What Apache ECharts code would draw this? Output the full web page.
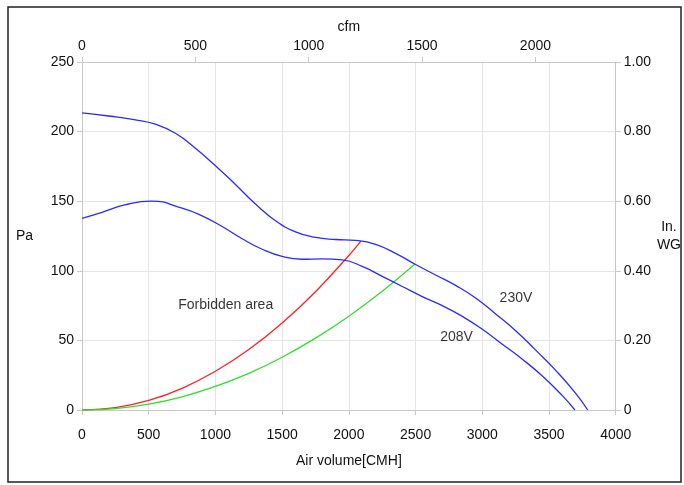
<!DOCTYPE html>
<html>
<head>
<meta charset="utf-8">
<script src="https://cdn.jsdelivr.net/npm/echarts@6/dist/echarts.min.js"></script>
<style>
html,body{margin:0;padding:0;background:#fff;}
#chart{width:684px;height:485px;}
</style>
</head>
<body>
<div id="chart"></div>
<script>
// Air volume (CMH) and static pressure (Pa)
var curve230V = [
  [0,213.5],[200,211.2],[400,208.5],[550,205.3],[700,198.8],[850,188],[1000,175.5],
  [1150,162],[1300,148],[1450,136],[1600,128],[1750,124],[1900,122.5],[2050,121.8],
  [2200,119],[2350,112.5],[2500,104.5],[2650,97],[2800,89.5],[2950,80.5],[3100,69],
  [3250,57],[3400,43],[3550,28.5],[3700,12],[3790,0]
];
var curve208V = [
  [0,137.7],[150,142],[320,147.3],[520,150.1],[750,145],[900,139.5],
  [1050,131.8],[1200,123],[1350,115.5],[1500,110.3],[1650,108.3],[1800,108.6],
  [1950,107.8],[2100,103.2],[2250,96],[2400,88.7],[2550,81.5],[2700,75],[2850,67.3],
  [3000,58],[3150,47.3],[3300,36.5],[3450,24.4],[3600,10.3],[3694,0]
];
var forbiddenRed = [
  [0,0],[250,1.7],[500,6.9],[750,15.6],[1000,27.8],[1250,43.4],[1500,62.5],
  [1750,85],[2000,111],[2090,121.3]
];
var systemGreen = [
  [0,0],[250,1.05],[500,4.2],[750,9.5],[1000,16.9],[1250,26.3],[1500,37.9],
  [1750,51.6],[2000,67.4],[2250,85.3],[2495,104.9]
];
var cmhMax = 4000;
var cfmInterval = 500;
var paMax = 250;
var inwgMax = 1.0;
var CMH_PER_CFM = 1.699;

var txt = '#111';
var font = 'Liberation Sans, Arial, sans-serif';
var chart = echarts.init(document.getElementById('chart'), null, {renderer:'canvas'});
var lineStyle = function(c){return {color:c, width:1.3};};
var plain = function(v){return String(v);};
chart.setOption({
  animation:false,
  backgroundColor:'#fff',
  textStyle:{fontFamily:font},
  grid:{left:82,right:67,top:62,bottom:75},
  graphic:[{type:'rect',shape:{x:8,y:7,width:673,height:475},style:{fill:'none',stroke:'#222',lineWidth:1.5},silent:true}],
  xAxis:[{
    type:'value',min:0,max:cmhMax,interval:500,position:'bottom',
    name:'Air volume[CMH]',nameLocation:'middle',nameGap:44,
    nameTextStyle:{color:txt,fontSize:14,fontFamily:font},
    axisLine:{show:true,onZero:false,lineStyle:{color:'#c8c8c8'}},
    axisTick:{show:true,length:5,lineStyle:{color:'#c8c8c8'}},
    axisLabel:{color:txt,fontSize:14,margin:18,fontFamily:font,formatter:plain},
    splitLine:{show:true,lineStyle:{color:'#e4e4e4'}}
  },{
    type:'value',min:0,max:cmhMax/CMH_PER_CFM,interval:cfmInterval,position:'top',
    name:'cfm',nameLocation:'middle',nameGap:27,
    nameTextStyle:{color:txt,fontSize:14,fontFamily:font},
    axisLine:{show:true,onZero:false,lineStyle:{color:'#c8c8c8'}},
    axisTick:{show:true,length:5,lineStyle:{color:'#c8c8c8'}},
    axisLabel:{color:txt,fontSize:14,margin:9,fontFamily:font,showMaxLabel:false,formatter:plain},
    splitLine:{show:false}
  }],
  yAxis:[{
    type:'value',min:0,max:paMax,interval:50,position:'left',
    name:'Pa',nameLocation:'middle',nameRotate:0,nameGap:49,
    nameTextStyle:{color:txt,fontSize:14,fontFamily:font},
    axisLine:{show:true,onZero:false,lineStyle:{color:'#c8c8c8'}},
    axisTick:{show:true,length:5,lineStyle:{color:'#c8c8c8'}},
    axisLabel:{color:txt,fontSize:14,margin:8,fontFamily:font},
    splitLine:{show:true,lineStyle:{color:'#e4e4e4'}}
  },{
    type:'value',min:0,max:inwgMax,interval:0.2,position:'right',
    name:'In.\nWG',nameLocation:'middle',nameRotate:0,nameGap:40,
    nameTextStyle:{color:txt,fontSize:14,fontFamily:font,align:'center',lineHeight:18},
    axisLine:{show:true,onZero:false,lineStyle:{color:'#c8c8c8'}},
    axisTick:{show:true,length:5,lineStyle:{color:'#c8c8c8'}},
    axisLabel:{color:txt,fontSize:14,margin:8,fontFamily:font,
      formatter:function(v){return v===0?'0':v.toFixed(2);}},
    splitLine:{show:false}
  }],
  series:[
    {type:'line',name:'230V',data:curve230V,smooth:0.5,symbol:'none',lineStyle:lineStyle('#2a2aff'),z:3},
    {type:'line',name:'208V',data:curve208V,smooth:0.5,symbol:'none',lineStyle:lineStyle('#2a2aff'),z:3},
    {type:'line',name:'forbidden',data:forbiddenRed,smooth:0.4,symbol:'none',lineStyle:lineStyle('#ff2020'),z:2},
    {type:'line',name:'system',data:systemGreen,smooth:0.4,symbol:'none',lineStyle:lineStyle('#30e030'),z:2},
    {type:'scatter',symbolSize:0,silent:true,
      data:[
        {value:[1077,75.4],label:{formatter:'Forbidden area'}},
        {value:[3252,80.5],label:{formatter:'230V'}},
        {value:[2807,52.4],label:{formatter:'208V'}}
      ],
      label:{show:true,position:'inside',color:'#000',fontSize:14,fontFamily:font},
      emphasis:{disabled:true}
    }
  ]
});
</script>
</body>
</html>
